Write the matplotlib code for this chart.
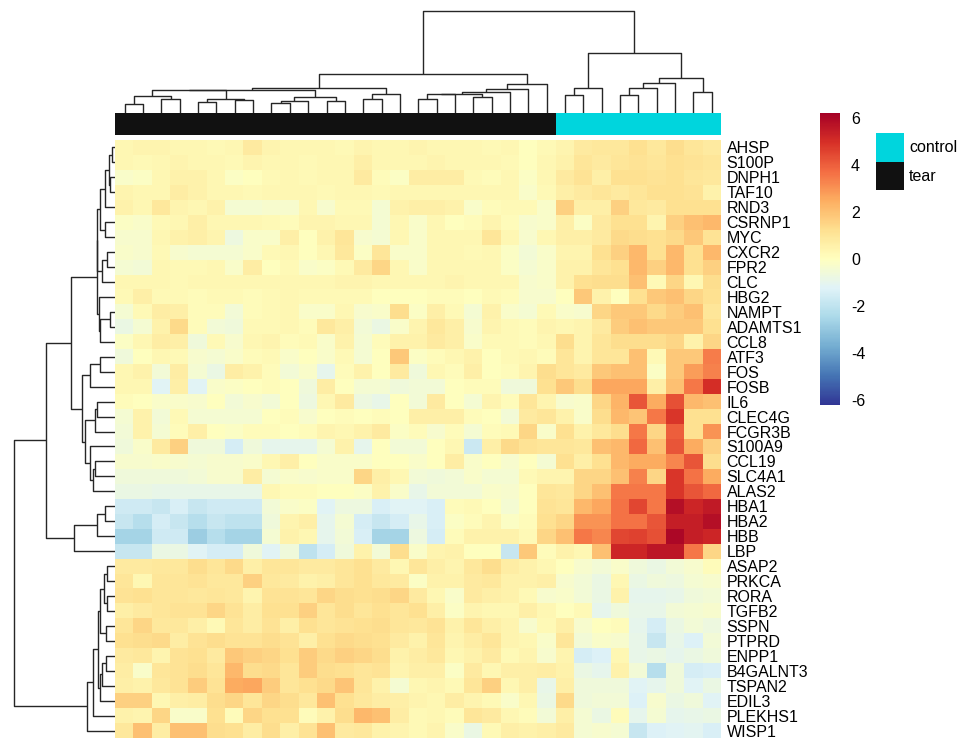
import numpy as np
import matplotlib
matplotlib.use("Agg")
import matplotlib.pyplot as plt
from matplotlib.patches import Rectangle

plt.rcParams['font.family'] = ['Liberation Sans', 'DejaVu Sans']
plt.rcParams['axes.unicode_minus'] = False

# ---------------- data ----------------
genes_upper = ["AHSP", "S100P", "DNPH1", "TAF10", "RND3", "CSRNP1", "MYC",
               "CXCR2", "FPR2", "CLC", "HBG2", "NAMPT", "ADAMTS1", "CCL8"]
genes_middle = ["ATF3", "FOS", "FOSB", "IL6", "CLEC4G", "FCGR3B", "S100A9",
                "CCL19", "SLC4A1", "ALAS2", "HBA1", "HBA2", "HBB", "LBP"]
genes_lower = ["ASAP2", "PRKCA", "RORA", "TGFB2", "SSPN", "PTPRD", "ENPP1",
               "B4GALNT3", "TSPAN2", "EDIL3", "PLEKHS1", "WISP1"]

group_labels = ["tear", "control"]
group_sizes = [24, 9]
group_colors = {"tear": "#111111", "control": "#00D5DD"}

vals_upper = [
    [0.3,0.4,0.4,0.3,0.3,0.2,0.3,0.8,0.4,0.3,0.3, 0.3,0.2,0.4,0.3,0.3,0.4,0.3,0.3,0.3,0.2,0.3, 0.0,0.2, 0.4,0.8,0.9,0.9,1.2,0.9,1.3,1.0,0.8],
    [0.3,0.2,0.3,0.4,0.3,0.3,0.2,0.4,0.3,0.3,0.2, 0.3,0.3,0.6,0.3,0.3,0.3,0.4,0.3,0.3,0.3,0.2, 0.0,0.3, 0.5,1.0,0.8,1.0,1.1,1.0,1.2,1.1,1.0],
    [-0.2,-0.1,0.3,0.5,0.5,0.3,-0.1,0.0,0.2,0.3,0.2, 0.3,0.3,0.8,0.1,-0.1,0.7,0.7,0.7,0.2,0.1,0.3, -0.1,0.3, 0.8,1.1,0.6,1.2,1.2,1.1,1.2,1.0,0.9],
    [0.4,0.3,0.3,0.7,0.5,0.3,0.3,0.2,0.3,0.3,0.3, 0.2,0.3,0.3,0.2,0.3,0.3,0.3,0.3,0.3,0.3,0.3, -0.2,0.2, 0.6,0.8,1.0,0.8,1.0,1.2,1.2,1.1,0.5],
    [0.5,0.3,0.9,0.4,0.3,0.5,-0.4,-0.4,-0.3,-0.3,0.3, -0.3,0.2,0.2,-0.4,0.5,0.6,0.6,0.5,-0.2,0.1,0.2, 0.2,-0.2, 1.6,0.6,0.6,1.6,0.9,0.8,1.2,1.2,1.2],
    [-0.1,-0.2,0.2,0.3,0.6,0.3,0.3,0.3,0.2,0.1,0.4, 0.4,0.3,0.3,-0.4,0.3,-0.2,0.3,0.0,0.1,0.4,0.1, -0.3,-0.2, 0.6,-0.1,0.8,1.2,1.2,0.4,1.6,2.0,2.2],
    [-0.3,-0.3,0.3,0.5,0.6,0.4,-0.7,-0.2,-0.2,0.6,0.0, 0.5,1.0,-0.3,-0.4,0.3,-0.2,0.3,0.3,0.3,1.0,0.3, -0.3,0.3, 0.6,0.6,0.8,1.4,1.3,1.2,1.4,1.8,1.1],
    [-0.2,-0.3,0.2,-0.3,-0.4,-0.4,-0.4,-0.2,0.2,0.3,0.0, 0.3,0.9,-0.1,1.0,-0.2,-0.2,0.3,0.3,0.2,0.3,-0.1, -0.5,-0.2, 0.4,0.4,1.2,1.6,2.2,1.2,2.2,1.2,2.2],
    [-0.4,-0.5,0.3,0.2,0.2,0.3,-0.2,0.7,0.0,0.2,-0.2, -0.1,0.2,0.8,1.5,0.3,-0.2,0.3,0.3,0.3,0.3,-0.1, -0.4,-0.2, 0.5,0.5,1.0,1.2,2.2,1.6,2.2,1.2,1.6],
    [0.3,0.3,0.3,0.2,0.3,0.3,0.3,0.3,0.3,0.3,0.3, 0.3,0.4,0.4,0.3,0.3,0.3,0.3,0.4,0.3,0.3,0.3, -0.3,-0.2, 0.5,1.2,1.3,1.3,2.0,0.2,1.5,0.3,1.3],
    [0.2,0.6,0.2,0.2,0.1,0.2,0.2,0.1,0.2,0.3,0.2, 0.2,0.2,0.2,0.0,0.0,0.0,0.1,0.1,0.0,0.2,0.1, -0.3,-0.3, 0.0,1.8,0.5,0.0,1.2,1.8,2.0,1.5,1.2],
    [-0.4,0.2,0.7,0.6,0.1,0.1,-0.5,0.1,0.2,0.3,-0.2, -0.2,0.3,-0.3,-0.2,1.3,-0.1,0.6,0.2,-0.4,0.5,-0.2, -0.4,0.2, -0.2,-0.3,1.5,1.8,1.8,1.4,1.7,2.0,1.0],
    [-0.8,-0.4,0.5,1.4,0.1,-0.5,-0.6,0.2,0.2,0.3,0.1, 0.9,0.6,-0.5,-0.8,-0.2,0.4,0.9,0.6,-0.3,0.4,0.2, 0.1,0.4, 0.3,0.4,0.8,1.7,2.0,1.8,1.8,1.8,1.2],
    [-0.1,0.3,0.7,0.6,-0.6,0.2,-0.3,0.3,0.4,0.1,0.2, -0.2,0.5,-0.4,0.1,0.5,0.5,0.8,0.6,-0.2,0.2,0.2, 0.1,0.3, 1.3,0.4,1.0,1.3,1.3,1.3,1.5,0.5,1.5],
]

vals_middle = [
    [-0.6,0.0,0.3,0.2,-0.3,-0.4,-0.2,0.1,0.2,-0.2,0.0, -0.2,0.2,-0.4,0.0,1.8,-0.1,0.1,0.3,0.5,0.0,0.2, 0.3,0.1, 1.0,0.4,1.0,1.0,2.0,0.2,1.8,1.8,3.4],
    [0.3,0.5,-0.5,0.7,-0.4,-0.8,0.7,0.5,0.1,-0.5,-0.2, -1.0,0.1,0.5,0.0,0.8,-0.6,0.3,0.1,0.6,0.0,0.1, 0.4,1.3, 1.0,0.8,1.8,2.0,2.0,-0.1,1.8,2.8,3.3],
    [0.3,0.3,-1.2,0.6,-1.2,-0.2,-0.1,0.0,0.1,0.0,-0.6, 0.7,0.0,-0.4,-0.4,-0.6,-0.5,-0.5,0.0,0.1,0.1,-0.6, -0.6,1.2, 1.8,1.3,2.6,2.6,2.6,0.6,2.0,3.5,5.0],
    [0.1,0.0,-0.2,-0.2,-0.3,0.0,-0.5,-0.3,-0.5,0.0,-0.7, 0.3,0.8,-0.7,-0.9,0.0,-0.5,0.8,0.0,-0.4,0.4,0.1, 1.0,0.4, -0.3,-0.2,1.5,2.3,4.2,2.5,4.3,2.2,2.0],
    [-0.4,0.5,-0.5,0.2,-0.4,-0.4,-0.4,-0.4,0.0,0.1,-0.3, 0.0,0.1,0.0,0.1,0.0,0.6,0.6,0.6,0.1,0.0,-0.5, 0.8,1.0, 0.5,-0.2,1.3,2.2,1.9,3.5,4.8,1.2,1.2],
    [-0.5,0.5,-0.4,0.1,0.6,0.0,-0.1,0.1,0.1,0.0,0.1, 0.4,0.3,0.5,0.8,-0.1,0.1,-0.3,0.1,-0.4,0.1,0.2, 1.5,-0.2, 1.2,0.5,0.9,1.3,3.5,1.5,4.0,1.2,3.0],
    [-0.6,-0.2,0.8,1.6,-0.6,-0.6,-1.5,-0.6,-1.0,-1.0,-1.0, -0.4,0.5,-1.0,0.0,-0.5,-0.5,0.0,0.3,-1.7,0.6,1.4, 1.1,1.0, 1.0,0.9,2.0,2.2,3.8,2.0,4.2,2.5,1.6],
    [-0.3,-0.3,-0.2,-0.3,-0.4,-0.3,-0.3,-0.2,0.3,0.6,0.0, -0.2,-0.2,-0.2,0.0,0.0,-0.2,0.0,0.7,-0.2,0.0,-0.3, 0.0,-0.4, 1.2,0.6,1.2,2.2,2.5,2.5,3.2,4.2,1.3],
    [-0.6,-0.6,-0.6,-0.6,-0.5,-0.3,-0.3,0.7,-0.4,-0.2,-0.3, -0.2,-0.2,1.5,0.6,0.3,-0.5,-0.6,-0.5,-0.2,-0.4,-0.4, 0.2,0.4, 0.4,1.5,1.5,2.0,3.3,1.5,4.8,3.6,2.5],
    [-0.8,-0.8,-0.9,-0.9,-0.9,-0.9,-0.9,-0.9,0.3,0.1,0.1, 0.0,0.0,-0.1,0.5,-0.2,-0.9,-0.5,-0.5,-0.5,-0.2,-0.3, 0.0,1.0, 0.9,1.5,2.0,3.5,3.5,3.5,4.8,4.2,3.8],
    [-1.6,-1.6,-1.8,-1.4,-1.8,-1.6,-1.6,-1.6,-0.5,-0.2,-0.1, -1.2,-0.7,-0.7,-1.4,-1.2,-1.2,-1.4,0.1,0.2,0.0,-0.4, 0.0,1.1, 1.0,2.2,2.6,3.6,4.5,3.5,5.8,5.2,5.5],
    [-1.8,-2.2,-1.5,-1.8,-2.2,-1.8,-2.0,-2.0,-0.6,0.4,0.6, -1.0,-0.4,-1.5,-1.8,-1.5,-0.9,-1.4,-0.1,0.1,0.4,-0.1, 0.1,1.2, 1.5,3.0,3.0,3.6,3.6,4.2,5.4,5.4,5.8],
    [-2.6,-2.6,-1.6,-1.6,-2.8,-2.2,-2.6,-2.6,-0.4,0.5,0.3, -1.0,-0.5,-1.4,-2.6,-2.6,-0.7,-1.5,0.1,0.5,0.5,0.5, 0.2,1.5, 2.0,3.5,3.2,4.5,4.6,4.3,6.0,5.4,5.2],
    [-1.8,-1.8,-0.8,-0.8,-1.2,-1.5,-1.5,-0.6,-1.2,-0.6,-2.0, -1.5,-0.6,0.5,-0.5,1.3,-0.2,0.4,0.5,0.0,0.0,-1.8, 1.8,0.1, 0.5,0.3,2.0,5.2,5.2,5.6,5.6,3.5,1.5],
]

vals_lower = [
    [0.8,0.8,0.9,0.9,1.3,1.0,1.4,0.6,1.0,1.0,0.8, 0.8,1.0,1.2,0.8,0.3,1.0,0.6,0.4,0.9,1.3,0.7, 0.5,0.3, 0.0,-0.3,-0.5,-0.2,-0.6,-0.8,-0.5,-0.3,0.1],
    [1.0,0.3,1.0,1.0,1.1,0.9,0.9,1.6,0.9,0.8,0.5, 0.6,1.0,1.2,0.9,0.8,-0.1,0.5,0.5,0.8,0.9,0.5, 0.5,0.6, -0.3,-0.5,-0.8,0.3,-0.8,-0.6,-0.7,-0.4,-0.3],
    [1.1,1.2,1.0,1.0,0.9,1.0,0.9,0.4,1.1,1.1,1.0, 1.5,1.3,1.2,1.3,1.5,0.8,0.3,-0.2,0.8,0.6,0.5, 0.2,-0.3, -0.2,-0.5,-0.8,0.5,-1.0,-1.0,-0.9,-0.6,-0.5],
    [0.6,0.8,1.0,1.1,1.1,1.5,1.1,0.7,1.2,1.2,1.6, 1.0,1.3,1.0,1.2,1.0,1.2,0.6,-0.1,0.4,0.3,0.3, 0.6,0.3, 0.0,0.2,-1.0,-0.6,-0.9,-0.9,-0.5,-0.4,-0.3],
    [1.0,1.5,0.9,0.9,0.6,0.2,1.0,0.7,1.1,0.6,1.2, 1.0,1.1,1.2,1.3,1.0,0.9,1.1,0.5,1.0,0.6,0.4, -0.3,0.2, 0.6,-0.3,0.0,0.1,-1.0,-1.5,-0.8,-0.5,-0.7],
    [1.2,1.3,1.4,0.7,1.1,1.3,1.1,1.1,1.3,1.1,0.6, 1.2,1.4,1.3,1.2,0.8,0.5,1.0,0.4,0.7,1.0,0.4, 0.3,-0.2, 1.0,-0.5,-0.2,-0.3,-0.9,-1.8,-0.9,-1.3,-0.5],
    [0.8,0.9,0.4,1.1,1.2,0.8,1.8,1.6,1.5,1.2,1.7, 1.4,1.6,1.5,1.3,0.5,0.7,0.9,0.3,0.5,0.8,0.2, 0.4,-0.3, 0.4,-1.5,-1.3,0.3,-0.9,-0.8,-1.0,-0.8,-0.6],
    [0.7,-0.2,1.0,1.1,1.3,1.0,2.2,1.3,1.4,1.0,1.7, 1.3,1.2,1.0,1.1,0.4,0.6,0.6,-0.1,0.8,0.3,0.6, 0.6,0.7, 0.5,-0.8,-1.0,0.5,-0.5,-2.2,-0.6,-1.5,-1.4],
    [0.6,0.5,0.9,1.1,1.7,1.1,2.5,2.6,1.7,1.0,1.2, 1.4,1.9,1.0,0.5,-0.4,0.3,0.4,0.2,1.0,1.6,0.3, 0.6,-0.9, 0.6,-0.6,-0.6,-0.6,-1.2,-1.0,-0.6,-1.2,-0.8],
    [1.6,1.6,0.3,0.6,0.7,1.3,1.5,1.0,1.5,1.3,0.9, 2.0,1.2,0.9,0.7,0.6,0.4,0.3,0.7,0.4,0.2,-0.2, 0.3,-0.8, 1.4,-0.6,-0.5,-0.5,-1.3,-0.3,-0.8,-0.6,-1.2],
    [0.5,0.4,1.5,-0.2,-0.2,1.2,0.1,1.5,1.2,1.2,0.1, 0.5,1.3,2.2,2.0,0.7,0.2,0.3,0.1,1.0,0.8,0.3, 0.1,-0.5, 0.6,-0.4,-0.8,0.1,-1.0,-0.4,-1.0,-0.9,-0.8],
    [0.9,2.0,0.7,2.0,2.0,1.3,1.2,0.7,1.3,0.6,1.1, 2.0,0.8,0.9,0.5,0.4,0.2,0.4,-0.2,-0.8,0.2,0.6, 0.5,0.6, 0.8,-0.4,-0.3,-0.4,-1.8,-1.3,-1.2,-1.1,-1.4],
]

# dendrogram merges: (name, left, right, height in px); ints are leaf positions,
# strings refer to earlier merges; the last merge is the root
col_merges = [
    ("a01", 0, 1, 9.7), ("a23", 2, 3, 14), ("A", "a01", "a23", 17),
    ("b45", 4, 5, 11.3), ("b67", 6, 7, 13), ("B", "b45", "b67", 14.3),
    ("AB", "A", "B", 23),
    ("c89", 8, 9, 10.7), ("c10", "c89", 10, 12), ("c1112", 11, 12, 12),
    ("C", "c10", "c1112", 16.3), ("ABC", "AB", "C", 23.7),
    ("d1314", 13, 14, 14), ("D", "d1314", 15, 19), ("Lft", "ABC", "D", 25.7),
    ("e1617", 16, 17, 14), ("e18", "e1617", 18, 19), ("e1920", 19, 20, 16.3),
    ("E", "e18", "e1920", 19.7), ("E21", "E", 21, 21), ("E22", "E21", 22, 24),
    ("E23", "E22", 23, 29.7), ("black", "Lft", "E23", 39),
    ("f2425", 24, 25, 18), ("F", "f2425", 26, 25.7),
    ("g2728", 27, 28, 18), ("g29", "g2728", 29, 25.7), ("G", "g29", 30, 30.7),
    ("h3132", 31, 32, 21.3), ("GH", "G", "h3132", 35.7),
    ("cyan", "F", "GH", 60.7), ("root", "black", "cyan", 102.3),
]

row_merges = [
    ("r01", 0, 1, 3.3), ("r23", 2, 3, 5), ("r0123", "r01", "r23", 6.7),
    ("r4", "r0123", 4, 10), ("r56", 5, 6, 10), ("rE", "r4", "r56", 15),
    ("r78", 7, 8, 8.3), ("r789", "r78", 9, 13.3), ("rF", "rE", "r789", 18),
    ("r1112", 11, 12, 5), ("r13", "r1112", 13, 15), ("rG", 10, "r13", 16.7),
    ("rU", "rF", "rG", 18.3),
    ("r1415", 14, 15, 15), ("r16", "r1415", 16, 25),
    ("r1718", 17, 18, 18.3), ("r19", "r1718", 19, 20),
    ("r2122", 21, 22, 20), ("r23b", "r2122", 23, 22), ("r20", 20, "r23b", 25),
    ("rL2", "r19", "r20", 30), ("rL", "r16", "rL2", 33.3),
    ("rN", "rU", "rL", 45),
    ("r2425", 24, 25, 10), ("r26", "r2425", 26, 18.3), ("r27", "r26", 27, 41.7),
    ("rTop", "rN", "r27", 69.3),
    ("r2829", 28, 29, 8.3), ("r3031", 30, 31, 8), ("r2831", "r2829", "r3031", 11),
    ("r3233", 32, 33, 9), ("rB1", "r2831", "r3233", 15),
    ("r3435", 34, 35, 9), ("r36", "r3435", 36, 13), ("rB2", "r36", 37, 15),
    ("rB12", "rB1", "rB2", 17), ("r38", "rB12", 38, 22), ("r39", "r38", 39, 28),
    ("root", "rTop", "r39", 101.7),
]

# ---------------- figure ----------------
W, H = 970, 738
fig = plt.figure(figsize=(W / 100, H / 100), dpi=100)


def ax_px(x0, y0, x1, y1):
    return fig.add_axes([x0 / W, 1 - y1 / H, (x1 - x0) / W, (y1 - y0) / H])


genes = genes_upper + genes_middle + genes_lower
data = np.array(vals_upper + vals_middle + vals_lower)
nrow, ncol = data.shape

HX0, HX1, HY0, HY1 = 115.5, 721, 140, 738
LINE = dict(color="#262626", lw=1.0, solid_capstyle="butt")

# heatmap
ax = ax_px(HX0, HY0, HX1, HY1)
im = ax.imshow(data, cmap="RdYlBu_r", vmin=-6.2, vmax=6.2, aspect="auto",
               interpolation="nearest", extent=(0, ncol, nrow, 0))
ax.set_xticks([])
ax.set_yticks(np.arange(nrow) + 0.5)
ax.set_yticklabels(genes)
ax.yaxis.tick_right()
ax.tick_params(axis="y", length=0, pad=4, labelsize=11.5)
for s in ax.spines.values():
    s.set_visible(False)

# annotation bar
axa = ax_px(HX0, 113.3, HX1, 135)
start = 0
for g, n in zip(group_labels, group_sizes):
    axa.add_patch(Rectangle((start, 0), n, 1, color=group_colors[g], lw=0))
    start += n
axa.set_xlim(0, ncol)
axa.set_ylim(0, 1)
axa.axis("off")


def draw_tree(axd, merges, orient):
    pos = {}

    def get(k):
        if isinstance(k, int):
            return k + 0.5, 0.0
        return pos[k]

    for name, left, right, h in merges:
        xl, hl = get(left)
        xr, hr = get(right)
        if orient == "top":
            axd.plot([xl, xl, xr, xr], [hl, h, h, hr], **LINE)
        else:
            axd.plot([hl, h, h, hr], [xl, xl, xr, xr], **LINE)
        pos[name] = ((xl + xr) / 2, h)


# top dendrogram
axt = ax_px(HX0, 0, HX1, 113.3)
draw_tree(axt, col_merges, "top")
axt.set_xlim(0, ncol)
axt.set_ylim(0, 113.3)
axt.axis("off")

# left dendrogram
axl = ax_px(0, HY0, HX0, HY1)
draw_tree(axl, row_merges, "left")
axl.set_ylim(nrow, 0)
axl.set_xlim(HX0, 0)
axl.axis("off")

# colorbar
cax = ax_px(820.5, 113, 840, 405)
cb = fig.colorbar(im, cax=cax, ticks=[-6, -4, -2, 0, 2, 4, 6])
cb.outline.set_visible(False)
cax.tick_params(length=0, pad=8, labelsize=11.5)

# legend for groups
axg = ax_px(870, 125, 970, 200)
axg.set_xlim(870, 970)
axg.set_ylim(200, 125)
axg.add_patch(Rectangle((876, 133), 28, 29, color=group_colors["control"], lw=0))
axg.add_patch(Rectangle((876, 162), 28, 28, color=group_colors["tear"], lw=0))
axg.text(909, 148, "control", va="center", ha="left", fontsize=11.5)
axg.text(909, 176.5, "tear", va="center", ha="left", fontsize=11.5)
axg.axis("off")

fig.savefig("out.png", dpi=100)
